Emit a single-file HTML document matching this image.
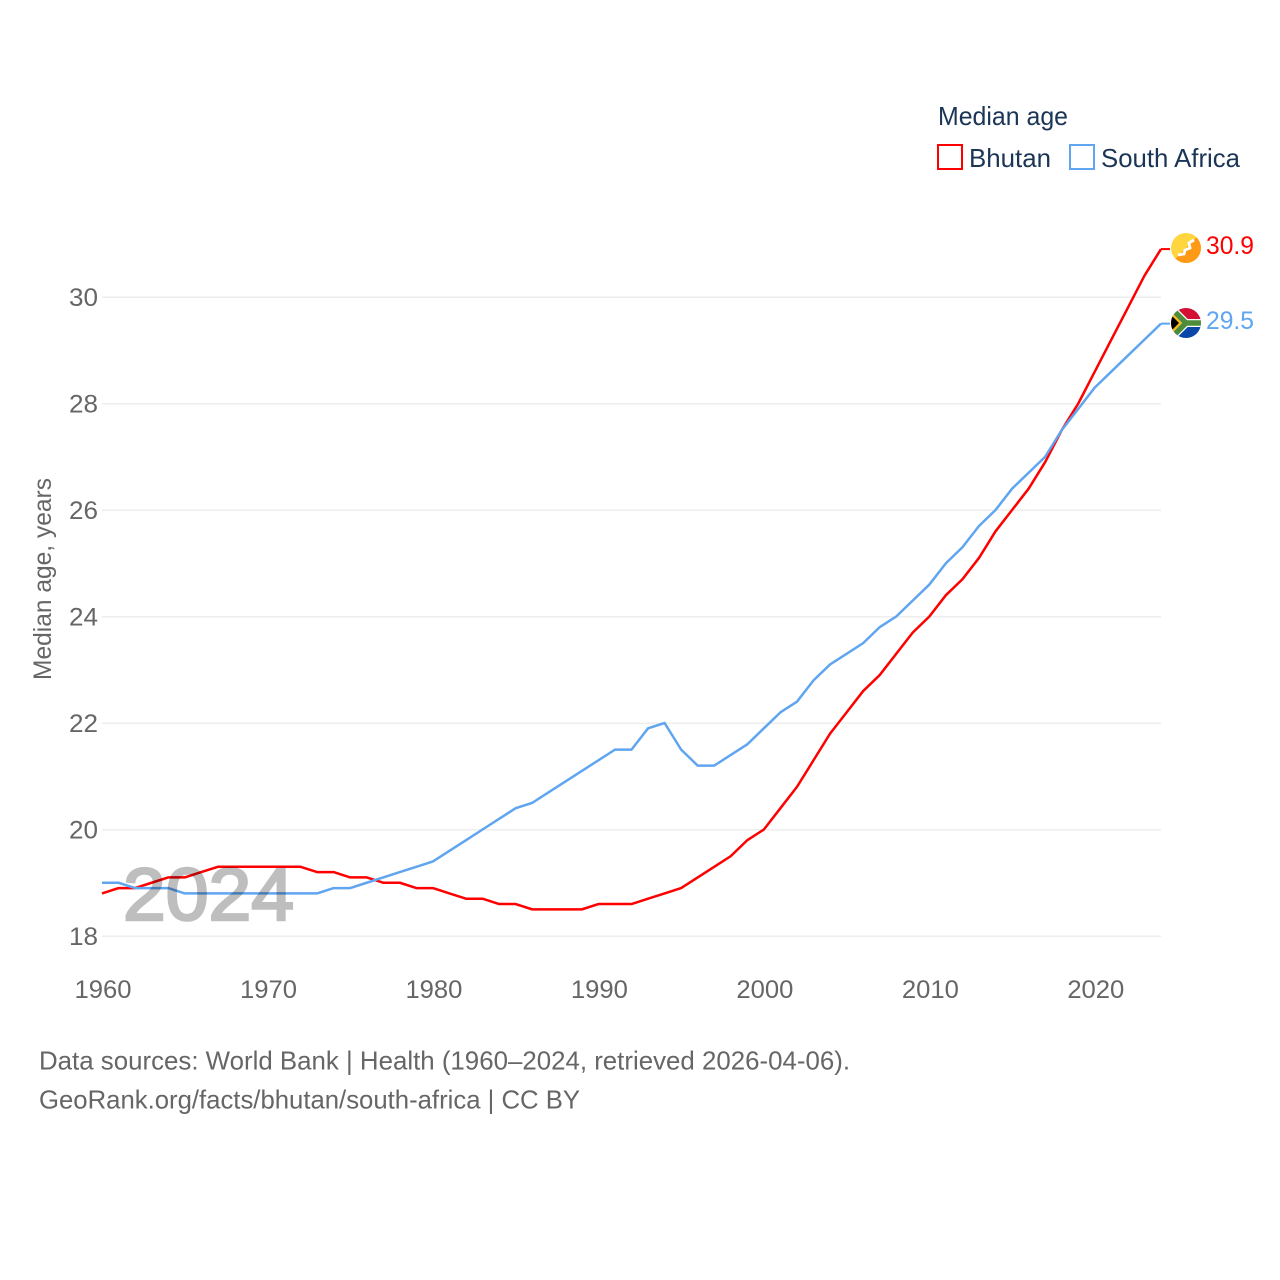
<!DOCTYPE html>
<html lang="en">
<head>
<meta charset="utf-8">
<title>Median age: Bhutan and South Africa</title>
<style>
html,body{margin:0;padding:0;background:#fff;width:1280px;height:1280px;overflow:hidden}
svg{display:block}
text{font-family:"Liberation Sans",sans-serif}
</style>
</head>
<body>
<svg id="chart" xmlns="http://www.w3.org/2000/svg" width="1280" height="1280" viewBox="0 0 1280 1280">
  <defs>
    <clipPath id="clip-bt"><circle cx="1186" cy="248" r="15"/></clipPath>
    <clipPath id="clip-za"><circle cx="1186" cy="323" r="15"/></clipPath>
  </defs>
  <rect x="0" y="0" width="1280" height="1280" fill="#fff"/>
  <g id="grid"></g>
  <g id="yticks"></g>
  <g id="xticks"></g>
  <text transform="translate(51,680) rotate(-90)" font-size="25" fill="#666" textLength="202" lengthAdjust="spacingAndGlyphs">Median age, years</text>

  <g id="series"></g>
  <text x="123" y="920" font-size="74" fill="#000" stroke="#000" stroke-width="2.6" opacity="0.25" textLength="171" lengthAdjust="spacingAndGlyphs">2024</text>

  <g clip-path="url(#clip-bt)">
    <rect x="1171" y="233" width="30" height="30" fill="#ffd63f"/>
    <polygon points="1171,263 1201,233 1201,263" fill="#ff9a16"/>
    <path d="M1178 255 L1184 254 L1185 250 L1190 248 L1189 243 L1194 240" fill="none" stroke="#fff" stroke-width="2.8"/>
  </g>
  <g clip-path="url(#clip-za)">
    <rect x="1171" y="308" width="30" height="15" fill="#d21034"/>
    <rect x="1171" y="323" width="30" height="15" fill="#0a47a9"/>
    <path d="M1170 307 L1186 323 L1170 339 M1186 323 H1202" fill="none" stroke="#fff" stroke-width="8"/>
    <path d="M1170 307 L1186 323 L1170 339 M1186 323 H1202" fill="none" stroke="#4c8c3a" stroke-width="5.5"/>
    <polygon points="1171,312 1182,323 1171,334" fill="#fdb913"/>
    <polygon points="1171,315 1179,323 1171,331" fill="#000"/>
  </g>
  <text x="1206" y="254" font-size="25" fill="#ff0000" textLength="48" lengthAdjust="spacingAndGlyphs">30.9</text>
  <text x="1206" y="329" font-size="25" fill="#60a5f0" textLength="48" lengthAdjust="spacingAndGlyphs">29.5</text>

  <g>
    <text x="938" y="125" font-size="26" fill="#1a3556" textLength="130" lengthAdjust="spacingAndGlyphs">Median age</text>
    <rect x="938" y="145" width="24" height="24" fill="#fff" stroke="#ff0000" stroke-width="2"/>
    <text x="969" y="167" font-size="26" fill="#1a3556" textLength="82" lengthAdjust="spacingAndGlyphs">Bhutan</text>
    <rect x="1070" y="145" width="24" height="24" fill="#fff" stroke="#60a5f0" stroke-width="2"/>
    <text x="1101" y="167" font-size="26" fill="#1a3556" textLength="139" lengthAdjust="spacingAndGlyphs">South Africa</text>
  </g>

  <text x="39" y="1069.5" font-size="26" fill="#666" textLength="811" lengthAdjust="spacingAndGlyphs">Data sources: World Bank | Health (1960–2024, retrieved 2026-04-06).</text>
  <text x="39" y="1108.5" font-size="26" fill="#666" textLength="541" lengthAdjust="spacingAndGlyphs">GeoRank.org/facts/bhutan/south-africa | CC BY</text>
</svg>
<script>
const years = [1960,1961,1962,1963,1964,1965,1966,1967,1968,1969,1970,1971,1972,1973,1974,1975,1976,1977,1978,1979,1980,1981,1982,1983,1984,1985,1986,1987,1988,1989,1990,1991,1992,1993,1994,1995,1996,1997,1998,1999,2000,2001,2002,2003,2004,2005,2006,2007,2008,2009,2010,2011,2012,2013,2014,2015,2016,2017,2018,2019,2020,2021,2022,2023,2024];
const bhutan = [18.8,18.9,18.9,19.0,19.1,19.1,19.2,19.3,19.3,19.3,19.3,19.3,19.3,19.2,19.2,19.1,19.1,19.0,19.0,18.9,18.9,18.8,18.7,18.7,18.6,18.6,18.5,18.5,18.5,18.5,18.6,18.6,18.6,18.7,18.8,18.9,19.1,19.3,19.5,19.8,20.0,20.4,20.8,21.3,21.8,22.2,22.6,22.9,23.3,23.7,24.0,24.4,24.7,25.1,25.6,26.0,26.4,26.9,27.5,28.0,28.6,29.2,29.8,30.4,30.9];
const southAfrica = [19.0,19.0,18.9,18.9,18.9,18.8,18.8,18.8,18.8,18.8,18.8,18.8,18.8,18.8,18.9,18.9,19.0,19.1,19.2,19.3,19.4,19.6,19.8,20.0,20.2,20.4,20.5,20.7,20.9,21.1,21.3,21.5,21.5,21.9,22.0,21.5,21.2,21.2,21.4,21.6,21.9,22.2,22.4,22.8,23.1,23.3,23.5,23.8,24.0,24.3,24.6,25.0,25.3,25.7,26.0,26.4,26.7,27.0,27.5,27.9,28.3,28.6,28.9,29.2,29.5];
const xTickYears = [1960,1970,1980,1990,2000,2010,2020];
const yTickValues = [18,20,22,24,26,28,30];

const SVG_NS = 'http://www.w3.org/2000/svg';
function xScale(year) { return 102 + (year - 1960) * (1161 - 102) / (2024 - 1960); }
function yScale(value) { return 936 - (value - 18) * (936 - 297) / (30 - 18); }
function makeEl(tag, attrs) {
  const el = document.createElementNS(SVG_NS, tag);
  Object.keys(attrs).forEach(function (k) { el.setAttribute(k, attrs[k]); });
  return el;
}

const gridGroup = document.getElementById('grid');
const yTickGroup = document.getElementById('yticks');
const xTickGroup = document.getElementById('xticks');
const seriesGroup = document.getElementById('series');

yTickValues.forEach(function (v) {
  const line = makeEl('line', {x1: xScale(1960), x2: xScale(2024), y1: yScale(v) + 0.3, y2: yScale(v) + 0.3, stroke: '#eeeeee', 'stroke-width': 1.5});
  
  
  gridGroup.appendChild(line);
  const label = makeEl('text', {x: 98, y: yScale(v) + 8.8, 'text-anchor': 'end', 'font-size': 25, fill: '#666', textLength: 29, lengthAdjust: 'spacingAndGlyphs'});
  
  
  label.textContent = String(v);
  yTickGroup.appendChild(label);
});

xTickYears.forEach(function (y) {
  const label = makeEl('text', {x: xScale(y) + 1, y: 998, 'text-anchor': 'middle', 'font-size': 25, fill: '#666', textLength: 57, lengthAdjust: 'spacingAndGlyphs'});
  
  
  label.textContent = String(y);
  xTickGroup.appendChild(label);
});

function drawSeries(values, color) {
  const last = values.length - 1;
  const pts = values.map(function (v, i) { return xScale(years[i]) + ',' + yScale(v); });
  const line = makeEl('polyline', {points: pts.join(' '), fill: 'none', stroke: color, 'stroke-width': 2.5, 'stroke-linejoin': 'round'});
  
  
  seriesGroup.appendChild(line);
  const connector = makeEl('line', {x1: xScale(years[last]), x2: xScale(years[last]) + 9, y1: yScale(values[last]), y2: yScale(values[last]), stroke: color, 'stroke-width': 2});
  
  
  seriesGroup.appendChild(connector);
}
drawSeries(bhutan, '#ff0000');
drawSeries(southAfrica, '#60a5f0');
</script>
</body>
</html>
